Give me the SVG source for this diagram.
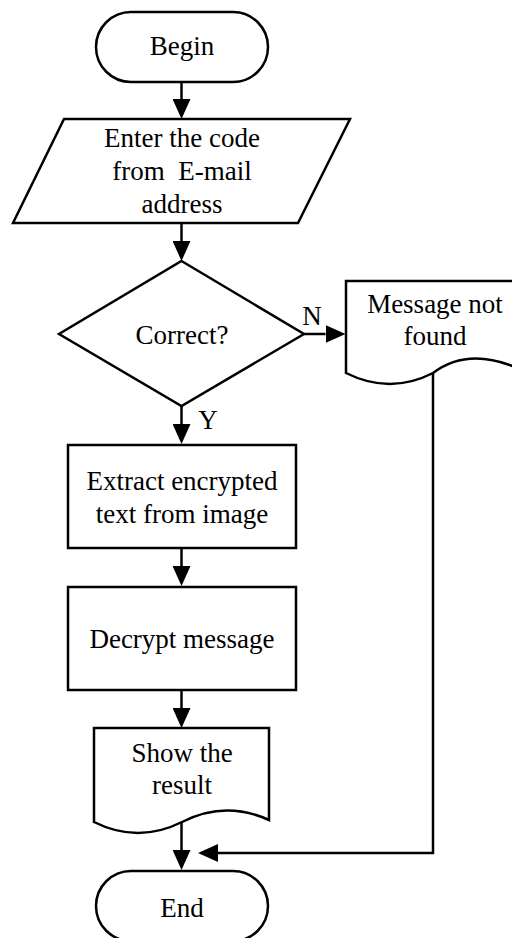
<svg xmlns="http://www.w3.org/2000/svg" width="512" height="938" viewBox="0 0 512 938">
  <style>
    .shape { fill: #ffffff; stroke: #000000; stroke-width: 2.5; stroke-linejoin: miter; }
    .edge { fill: none; stroke: #000000; stroke-width: 2.5; }
    .label { font-family: "Liberation Serif", "Times New Roman", serif; font-size: 27px; fill: #000000; text-anchor: middle; }
  </style>
  <defs>
    <marker id="arrow" viewBox="0 0 20 18" refX="0" refY="9" markerWidth="20" markerHeight="18" markerUnits="userSpaceOnUse" orient="auto">
      <path d="M0,0 L20,9 L0,18 Z" fill="#000000"/>
    </marker>
  </defs>
  <rect width="512" height="938" fill="#ffffff"/>

  <!-- connectors -->
  <g id="connectors">
    <line class="edge" x1="181.5" y1="82" x2="181.5" y2="99" marker-end="url(#arrow)"/>
    <line class="edge" x1="181.5" y1="223" x2="181.5" y2="241" marker-end="url(#arrow)"/>
    <line class="edge" x1="304" y1="334" x2="325.5" y2="334" marker-end="url(#arrow)"/>
    <line class="edge" x1="181.5" y1="406" x2="181.5" y2="424" marker-end="url(#arrow)"/>
    <line class="edge" x1="181.5" y1="548" x2="181.5" y2="566" marker-end="url(#arrow)"/>
    <line class="edge" x1="181.5" y1="690" x2="181.5" y2="708" marker-end="url(#arrow)"/>
    <line class="edge" x1="181.5" y1="822" x2="181.5" y2="850" marker-end="url(#arrow)"/>
    <polyline class="edge" points="433,373 433,853 218,853" marker-end="url(#arrow)"/>
    <text class="label" x="312" y="325">N</text>
    <text class="label" x="208" y="429">Y</text>
  </g>

  <g id="begin">
    <rect class="shape" x="96" y="12" width="172" height="70" rx="35" ry="35"/>
    <text class="label" x="182" y="55">Begin</text>
  </g>

  <g id="enter-code">
    <polygon class="shape" points="64,119 350,119 298,223 13,223"/>
    <text class="label" x="182" y="147">Enter the code</text>
    <text class="label" x="182" y="180" xml:space="preserve">from  E-mail</text>
    <text class="label" x="182" y="213">address</text>
  </g>

  <g id="correct">
    <polygon class="shape" points="181.5,261 304,334 181.5,406 59,334"/>
    <text class="label" x="182" y="344">Correct?</text>
  </g>

  <g id="not-found">
    <path class="shape" d="M346,281 H524 V371 Q470,345 433,373 Q390,395 346,373 Z"/>
    <text class="label" x="435" y="313">Message not</text>
    <text class="label" x="435" y="345">found</text>
  </g>

  <g id="extract">
    <rect class="shape" x="68" y="445" width="228" height="103"/>
    <text class="label" x="182" y="490">Extract encrypted</text>
    <text class="label" x="182" y="523">text from image</text>
  </g>

  <g id="decrypt">
    <rect class="shape" x="68" y="587" width="228" height="103"/>
    <text class="label" x="182" y="648">Decrypt message</text>
  </g>

  <g id="show-result">
    <path class="shape" d="M94,728 H269 V820 Q225,800 182,822 Q138,844 94,822 Z"/>
    <text class="label" x="182" y="762">Show the</text>
    <text class="label" x="182" y="794">result</text>
  </g>

  <g id="end">
    <rect class="shape" x="96" y="871" width="172" height="70" rx="35" ry="35"/>
    <text class="label" x="182" y="917">End</text>
  </g>
</svg>
